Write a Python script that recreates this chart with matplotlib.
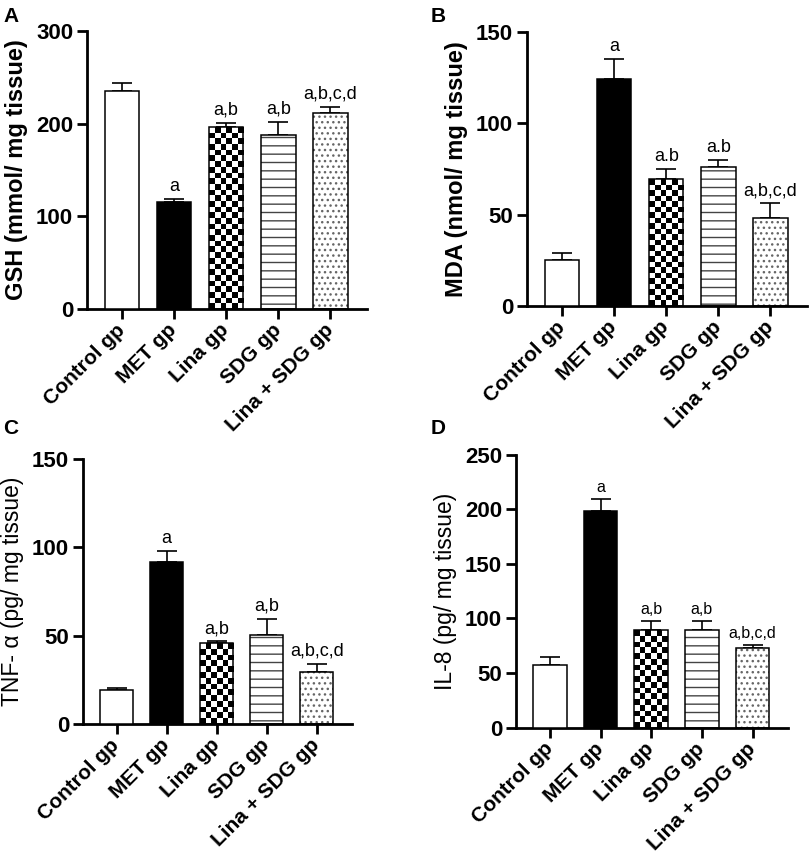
import matplotlib

matplotlib.use("Agg")
import matplotlib.pyplot as plt
import numpy as np

plt.rcParams["font.family"] = ["Liberation Sans", "DejaVu Sans"]
plt.rcParams["hatch.linewidth"] = 1.0

groups = ["Control gp", "MET gp", "Lina gp", "SDG gp", "Lina + SDG gp"]

gsh_mean = [235, 115.5, 196, 188, 212]
gsh_err = [9, 3.5, 5, 14, 6]
gsh_sig = ["", "a", "a,b", "a,b", "a,b,c,d"]

mda_mean = [25.2, 124, 69.5, 76.3, 48.3]
mda_err = [4, 11, 5.5, 3.7, 8]
mda_sig = ["", "a", "a.b", "a.b", "a,b,c,d"]

tnf_mean = [19.2, 91.9, 45.7, 50.5, 29.6]
tnf_err = [1.4, 6, 1.1, 9, 4.4]
tnf_sig = ["", "a", "a,b", "a,b", "a,b,c,d"]

il8_mean = [57.4, 198.4, 89.5, 89.5, 72.7]
il8_err = [7.6, 11.3, 8, 8.2, 3]
il8_sig = ["", "a", "a,b", "a,b", "a,b,c,d"]

BAR_W = 0.66
CELL_PX = 5.6


def checker(ax, x, h):
    # checkerboard fill, cell size in pixels
    p0 = ax.transData.transform((x - BAR_W / 2, 0))
    p1 = ax.transData.transform((x + BAR_W / 2, h))
    ncol = max(1, int(round((p1[0] - p0[0]) / CELL_PX)))
    nrow = max(1, int(round((p1[1] - p0[1]) / CELL_PX)))
    grid = np.indices((nrow, ncol)).sum(axis=0) % 2
    ax.imshow(grid, cmap="gray", extent=(x - BAR_W / 2, x + BAR_W / 2, 0, h),
              aspect="auto", interpolation="nearest", origin="lower", zorder=2)


def panel(ax, means, errs, sigs, ylabel, ymax, step, bold, sig_size):
    x = np.arange(len(groups))
    ax.set_xlim(-0.67, 4.7)
    ax.set_ylim(0, ymax)

    ax.bar(x[0], means[0], BAR_W, color="white", edgecolor="black", linewidth=1.1, zorder=3)
    ax.bar(x[1], means[1], BAR_W, color="black", edgecolor="black", linewidth=1.1, zorder=3)
    checker(ax, x[2], means[2])
    ax.bar(x[3], means[3], BAR_W, color="white", edgecolor="#444444", hatch="--",
           linewidth=0, zorder=2)
    ax.bar(x[4], means[4], BAR_W, color="white", edgecolor="#666666", hatch="...",
           linewidth=0, zorder=2)
    ax.bar(x[2:], means[2:], BAR_W, color="none", edgecolor="black", linewidth=1.1, zorder=3)

    ax.errorbar(x, means, yerr=[np.zeros(len(x)), errs], fmt="none", ecolor="black",
                elinewidth=1.2, capsize=7, capthick=1.2, zorder=1)
    for xi, m, e, s in zip(x, means, errs, sigs):
        if s:
            ax.annotate(s, (xi, m + e), xytext=(0, 3), textcoords="offset points",
                        ha="center", va="bottom", fontsize=sig_size)

    ax.set_xlim(-0.67, 4.7)
    ax.set_ylim(0, ymax)
    ax.set_yticks(np.arange(0, ymax + 1, step))
    ax.set_xticks(x)
    ax.set_xticklabels(groups, rotation=45, ha="right", va="center",
                       rotation_mode="anchor", fontsize=15, fontweight="bold")
    for t in ax.get_yticklabels():
        t.set_fontsize(16)
        t.set_fontweight("bold")
    ax.set_ylabel(ylabel, fontsize=17 if bold else 16.5,
                  fontweight="bold" if bold else "normal", labelpad=6)

    for side in ["top", "right"]:
        ax.spines[side].set_visible(False)
    for side in ["left", "bottom"]:
        ax.spines[side].set_linewidth(2)
    ax.tick_params(width=2, length=7, pad=3)
    ax.tick_params(axis="x", pad=6)


fig = plt.figure(figsize=(8.09, 8.57), dpi=100)
axA = fig.add_axes([0.1075, 0.6394, 0.3461, 0.3244])
axB = fig.add_axes([0.6514, 0.6429, 0.3461, 0.3198])
axC = fig.add_axes([0.1026, 0.1552, 0.3325, 0.3092])
axD = fig.add_axes([0.6378, 0.1509, 0.3362, 0.3185])

panel(axA, gsh_mean, gsh_err, gsh_sig, "GSH (mmol/ mg tissue)", 300, 100, True, 13)
panel(axB, mda_mean, mda_err, mda_sig, "MDA (nmol/ mg tissue)", 150, 50, True, 13)
panel(axC, tnf_mean, tnf_err, tnf_sig, "TNF- α (pg/ mg tissue)", 150, 50, False, 13)
panel(axD, il8_mean, il8_err, il8_sig, "IL-8 (pg/ mg tissue)", 250, 50, False, 11.5)

fig.text(0.004, 0.974, "A", fontsize=15, fontweight="bold")
fig.text(0.532, 0.974, "B", fontsize=15, fontweight="bold")
fig.text(0.004, 0.494, "C", fontsize=15, fontweight="bold")
fig.text(0.532, 0.494, "D", fontsize=15, fontweight="bold")

fig.savefig("out.png", dpi=100)
